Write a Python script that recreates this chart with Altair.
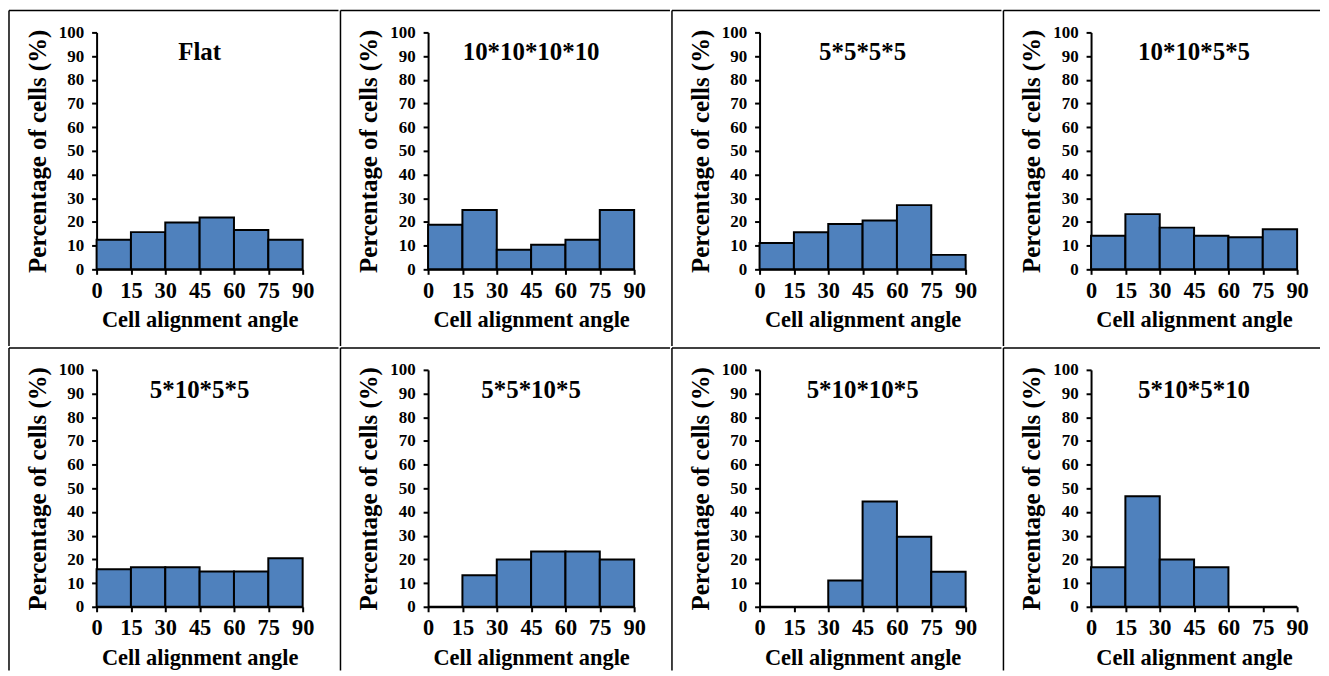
import altair as alt
import pandas as pd

titles = ["Flat", "10*10*10*10", "5*5*5*5", "10*10*5*5",
          "5*10*5*5", "5*5*10*5", "5*10*10*5", "5*10*5*10"]
bin_start = [0, 15, 30, 45, 60, 75]
bin_end = [15, 30, 45, 60, 75, 90]

flat = [12.5, 15.7, 19.8, 21.9, 16.6, 12.5]
p_10_10_10_10 = [18.8, 25.0, 8.3, 10.4, 12.5, 25.0]
p_5_5_5_5 = [11.1, 15.6, 19.1, 20.6, 27.1, 6.1]
p_10_10_5_5 = [14.2, 23.3, 17.6, 14.2, 13.5, 16.9]
p_5_10_5_5 = [15.8, 16.7, 16.7, 14.9, 14.9, 20.5]
p_5_5_10_5 = [0.0, 13.3, 20.0, 23.3, 23.3, 20.0]
p_5_10_10_5 = [0.0, 0.0, 11.1, 44.4, 29.6, 14.8]
p_5_10_5_10 = [16.7, 46.7, 20.0, 16.7, 0.0, 0.0]

series = [flat, p_10_10_10_10, p_5_5_5_5, p_10_10_5_5,
          p_5_10_5_5, p_5_5_10_5, p_5_10_10_5, p_5_10_5_10]

x_ticks = [0, 15, 30, 45, 60, 75, 90]
y_ticks = [0, 10, 20, 30, 40, 50, 60, 70, 80, 90, 100]

FONT = "Liberation Serif"
W, H = 207, 238
BAR_BLUE = "#4F81BD"


def panel(idx, title, values):
    col = idx % 4
    row = idx // 4
    left, top = -88, -22
    right = 243 if col < 3 else 230
    bottom = 315 if row == 0 else 302

    df = pd.DataFrame({"start": bin_start, "end": bin_end, "pct": values})
    one = pd.DataFrame({"a": [0]})

    frame = alt.Chart(one).mark_rect(opacity=0).encode(
        x=alt.value(left), x2=alt.value(right),
        y=alt.value(top), y2=alt.value(bottom))

    bars = alt.Chart(df).mark_rect(
        fill=BAR_BLUE, stroke="black", strokeWidth=2
    ).encode(
        x=alt.X("start:Q",
                scale=alt.Scale(domain=[0, 90], nice=False, zero=True),
                axis=alt.Axis(values=x_ticks, title="Cell alignment angle",
                              labelFontSize=22.5, titleFontSize=22.5,
                              labelPadding=5, titlePadding=7,
                              labelFlush=False, labelOverlap=False)),
        x2="end:Q",
        y=alt.Y("pct:Q",
                scale=alt.Scale(domain=[0, 100], nice=False),
                axis=alt.Axis(values=y_ticks, title="Percentage of cells (%)",
                              labelFontSize=17, titleFontSize=25,
                              labelPadding=8, titlePadding=8,
                              labelFlush=False, labelOverlap=False)),
        y2=alt.datum(0),
    )

    ttl = alt.Chart(pd.DataFrame({"t": [title]})).mark_text(
        font=FONT, fontSize=25, fontWeight="bold", color="black",
        align="center", baseline="alphabetic"
    ).encode(text="t:N", x=alt.value(W / 2), y=alt.value(28))

    top_line = alt.Chart(one).mark_rule(color="black", strokeWidth=1.5).encode(
        x=alt.value(left), x2=alt.value(right), y=alt.value(top))
    left_line = alt.Chart(one).mark_rule(color="black", strokeWidth=1.5).encode(
        x=alt.value(left), y=alt.value(top), y2=alt.value(bottom))

    return alt.layer(frame, bars, ttl, top_line, left_line).properties(
        width=W, height=H)


panels = [panel(i, t, v) for i, (t, v) in enumerate(zip(titles, series))]

chart = alt.concat(*panels, columns=4, spacing=0, align="each", bounds="full").properties(
    padding=0
).configure_view(stroke=None).configure_axis(
    grid=False,
    domainColor="black", domainWidth=2,
    tickColor="black", tickWidth=2, tickSize=5,
    labelFont=FONT, labelFontWeight="bold", labelColor="black",
    titleFont=FONT, titleFontWeight="bold", titleColor="black",
)

chart.save("out.html", embed_options={"renderer": "svg", "actions": False})
